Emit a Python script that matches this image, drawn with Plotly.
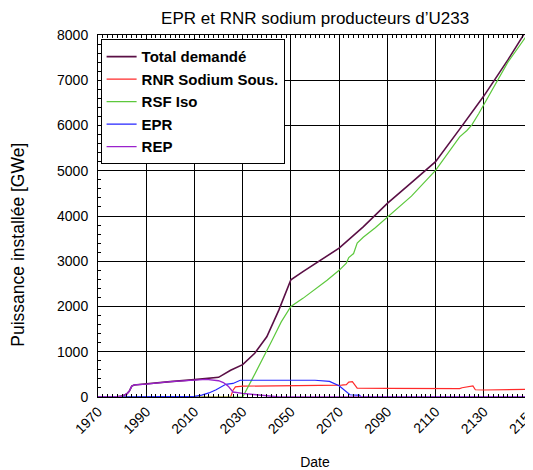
import plotly.graph_objects as go

# ---- data ----
years_total = [1970, 1976, 1978, 1980, 1982, 1983, 1984, 1985, 1990, 2000, 2010, 2015, 2020, 2025,
               2030, 2035, 2040, 2045, 2050, 2055, 2060, 2070, 2080, 2090, 2100, 2110, 2120, 2130,
               2140, 2150]
total = [0, 0, 5, 20, 70, 130, 240, 265, 285, 340, 385, 402, 435, 590,
         715, 965, 1330, 1920, 2590, 2770, 2940, 3290, 3760, 4280, 4740, 5200, 5920, 6650,
         7450, 8300]

years_rnr = [1970, 2025, 2026, 2027, 2030, 2050, 2071, 2073, 2074, 2075.5, 2076.5, 2077.5, 2090,
             2110, 2120, 2121, 2124, 2125.5, 2126.5, 2130, 2150]
rnr = [0, 0, 150, 225, 240, 245, 262, 275, 330, 340, 260, 195, 190,
       195, 185, 205, 240, 245, 160, 155, 170]

years_rsf = [1970, 2030, 2034, 2038, 2042, 2046, 2050, 2055, 2060, 2065, 2070, 2073, 2074, 2076,
             2077.5, 2080, 2085, 2090, 2095, 2100, 2110, 2115, 2120, 2123, 2125, 2128, 2132,
             2136, 2140, 2148, 2150]
rsf = [0, 0, 400, 800, 1230, 1660, 2000, 2180, 2370, 2580, 2800, 2960, 3080, 3170,
       3400, 3530, 3740, 3970, 4210, 4440, 5010, 5380, 5750, 5890, 6010, 6270, 6640,
       7040, 7400, 8000, 8170]

years_epr = [1970, 2005, 2010, 2013, 2016, 2019, 2021, 2023, 2026, 2029, 2060, 2066, 2070, 2073,
             2074.5, 2077, 2078.5, 2079, 2150]
epr = [0, 0, 15, 40, 90, 160, 220, 280, 300, 370, 370, 345, 250, 115,
       50, 40, 40, 0, 0]

years_rep = [1970, 1977, 1980, 1982, 1983, 1984, 1985, 1990, 2000, 2010, 2015, 2020, 2022, 2024,
             2026, 2030, 2035, 2040, 2045, 2150]
rep = [0, 0, 20, 70, 130, 240, 268, 285, 340, 380, 390, 360, 320, 240,
       110, 80, 50, 15, 0, 0]

x_ticks = [1970, 1990, 2010, 2030, 2050, 2070, 2090, 2110, 2130, 2150]
y_ticks = [0, 1000, 2000, 3000, 4000, 5000, 6000, 7000, 8000]

series = [
    ("Total demandé", years_total, total, "#5a0f45", 1.6),
    ("RNR Sodium Sous.", years_rnr, rnr, "#ff2a2a", 1.2),
    ("RSF Iso", years_rsf, rsf, "#5cc83c", 1.2),
    ("EPR", years_epr, epr, "#2424ff", 1.2),
    ("REP", years_rep, rep, "#9a22cc", 1.4),
]

FONT = "Liberation Sans, Arial, sans-serif"

# page body has an 8px margin: figure is sized/offset so the plot lands where the reference has it
W, H = 525, 462
ML, MR, MT, MB = 90, 1, 27, 73

fig = go.Figure()
for name, xs, ys, color, w in series:
    fig.add_trace(go.Scatter(x=xs, y=ys, mode="lines", name=name,
                             line=dict(color=color, width=w)))

fig.update_layout(
    width=W, height=H,
    margin=dict(l=ML, r=MR, t=MT, b=MB, autoexpand=False),
    paper_bgcolor="white", plot_bgcolor="white",
    font=dict(family=FONT, size=14, color="black"),
    title=dict(text="EPR et RNR sodium producteurs d’U233", x=0.585, xanchor="center",
               xref="container", y=0.978, yanchor="middle", yref="container",
               font=dict(family=FONT, size=17, color="black")),
    showlegend=True,
    legend=dict(x=0.006, y=0.988, xanchor="left", yanchor="top",
                bgcolor="white", bordercolor="black", borderwidth=1,
                font=dict(family=FONT, size=15, color="black", weight="bold"),
                tracegroupgap=0, itemwidth=30),
    annotations=[dict(text="Puissance installée [GWe]", textangle=-90,
                      xref="paper", yref="paper", x=-0.185, y=0.42,
                      xanchor="center", yanchor="middle", showarrow=False,
                      font=dict(family=FONT, size=17.5, color="black"))],
)

fig.update_xaxes(
    range=[1970, 2150], tickmode="array", tickvals=x_ticks,
    ticktext=[str(v) for v in x_ticks], tickangle=-45,
    automargin=False, ticklabeloverflow="allow",
    showgrid=True, gridcolor="black", gridwidth=1,
    showline=True, linecolor="black", linewidth=1, mirror="allticks",
    ticks="inside", ticklen=5, tickcolor="black",
    minor=dict(dtick=2, ticks="inside", ticklen=3, tickcolor="black", showgrid=False),
    zeroline=False,
    tickfont=dict(family=FONT, size=14),
    title=dict(text="Date", font=dict(family=FONT, size=14), standoff=21),
)
fig.update_yaxes(
    range=[0, 8000], tickmode="array", tickvals=y_ticks,
    ticktext=[str(v) for v in y_ticks],
    automargin=False, ticklabeloverflow="allow",
    showgrid=True, gridcolor="black", gridwidth=1,
    showline=True, linecolor="black", linewidth=1, mirror="allticks",
    ticks="inside", ticklen=5, tickcolor="black",
    minor=dict(dtick=200, ticks="inside", ticklen=3, tickcolor="black", showgrid=False),
    zeroline=False, ticklabelstandoff=6,
    tickfont=dict(family=FONT, size=14),
)

fig.write_html("out.html")
